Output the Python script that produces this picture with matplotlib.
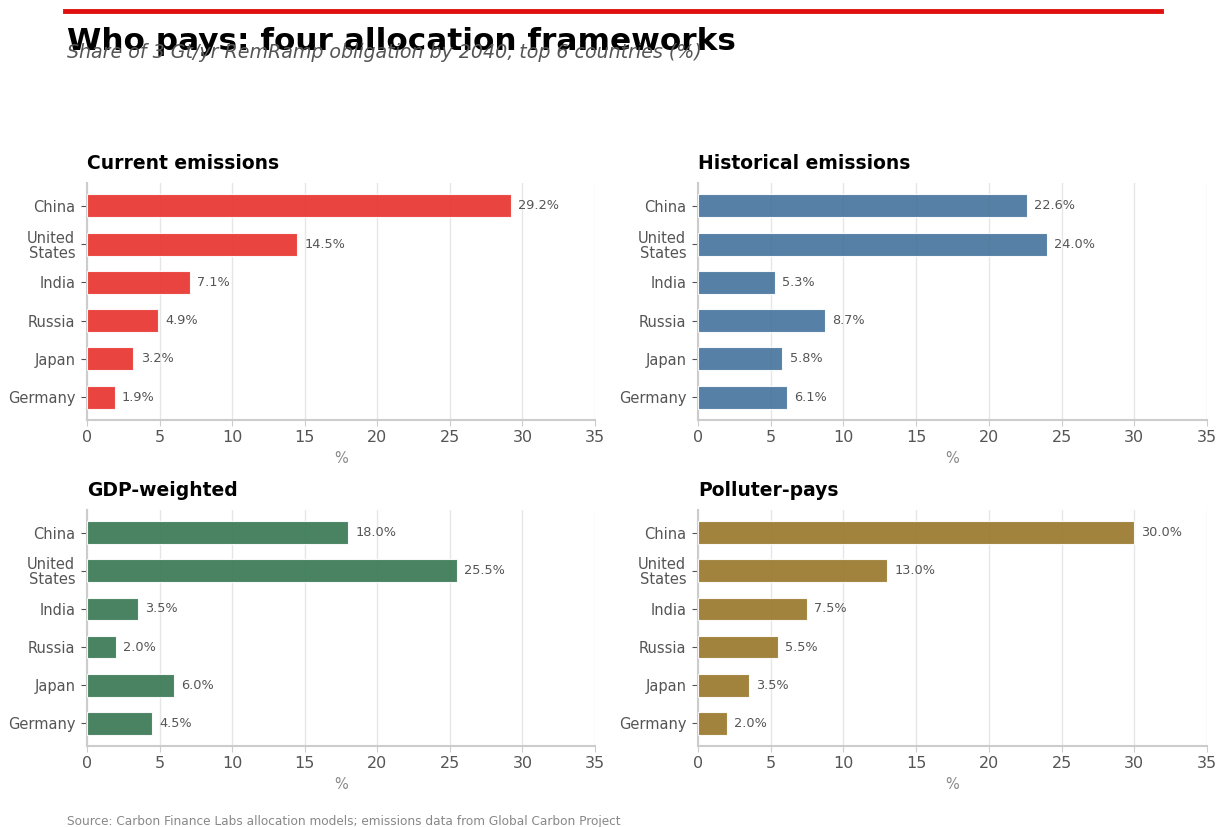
import matplotlib.pyplot as plt
from matplotlib.lines import Line2D

countries = ['China', 'United\nStates', 'India', 'Russia', 'Japan', 'Germany']

current = [29.2, 14.5, 7.1, 4.9, 3.2, 1.9]
historical = [22.6, 24.0, 5.3, 8.7, 5.8, 6.1]
gdp_weighted = [18.0, 25.5, 3.5, 2.0, 6.0, 4.5]
polluter_pays = [30.0, 13.0, 7.5, 5.5, 3.5, 2.0]

panels = [
    ('Current emissions', current, '#e8302b'),
    ('Historical emissions', historical, '#44729b'),
    ('GDP-weighted', gdp_weighted, '#357651'),
    ('Polluter-pays', polluter_pays, '#977628'),
]

fig = plt.figure(figsize=(12.23, 8.27), dpi=100)

# axes boxes in pixels: left, top, width, height
W, H = 1223, 827
boxes = [
    (87, 183, 508, 237),
    (698, 183, 509, 237),
    (87, 510, 508, 236),
    (698, 510, 509, 236),
]

for (title, vals, color), (x0, y0, w, h) in zip(panels, boxes):
    ax = fig.add_axes([x0 / W, 1 - (y0 + h) / H, w / W, h / H])
    ypos = range(len(countries))
    ax.barh(ypos, vals, height=0.6, color=color, alpha=0.9,
            edgecolor='white', linewidth=0.8, zorder=3)
    for y, v in zip(ypos, vals):
        ax.text(v + 0.5, y, '%.1f%%' % v, va='center', ha='left',
                fontsize=9.3, color='#555555')
    ax.set_yticks(list(ypos))
    ax.set_yticklabels(countries, linespacing=1.0)
    ax.set_ylim(5.6, -0.6)
    ax.set_xlim(0, 35)
    ax.set_xticks(range(0, 36, 5))
    ax.set_xlabel('%', color='#888888', fontsize=10.5)
    ax.set_title(title, loc='left', fontsize=13.5, fontweight='bold', pad=10)
    ax.grid(axis='x', color='#e6e6e6', linewidth=1, zorder=0)
    ax.set_axisbelow(True)
    for s in ['top', 'right']:
        ax.spines[s].set_visible(False)
    for s in ['left', 'bottom']:
        ax.spines[s].set_color('#cccccc')
        ax.spines[s].set_linewidth(1.5)
    ax.tick_params(axis='y', labelsize=10.5, labelcolor='#555555',
                   color='#555555', length=4.5, pad=4)
    ax.tick_params(axis='x', labelsize=11.5, labelcolor='#555555',
                   color='#cccccc', length=4)

# red rule across the top
fig.add_artist(Line2D([65 / W, 1161 / W], [1 - 11 / H, 1 - 11 / H],
                      color='#e01010', linewidth=3.5))

fig.text(67 / W, 1 - 42 / H, 'Who pays: four allocation frameworks',
         fontsize=22.4, fontweight='bold', va='center', ha='left')
fig.text(67 / W, 1 - 52 / H,
         'Share of 3 Gt/yr RemRamp obligation by 2040, top 6 countries (%)',
         fontsize=13.7, style='italic', color='#555555', va='center', ha='left')
fig.text(67 / W, 1 - 821 / H,
         'Source: Carbon Finance Labs allocation models; emissions data from Global Carbon Project',
         fontsize=8.7, color='#888888', va='center', ha='left')

fig.savefig('out.png', dpi=100)
